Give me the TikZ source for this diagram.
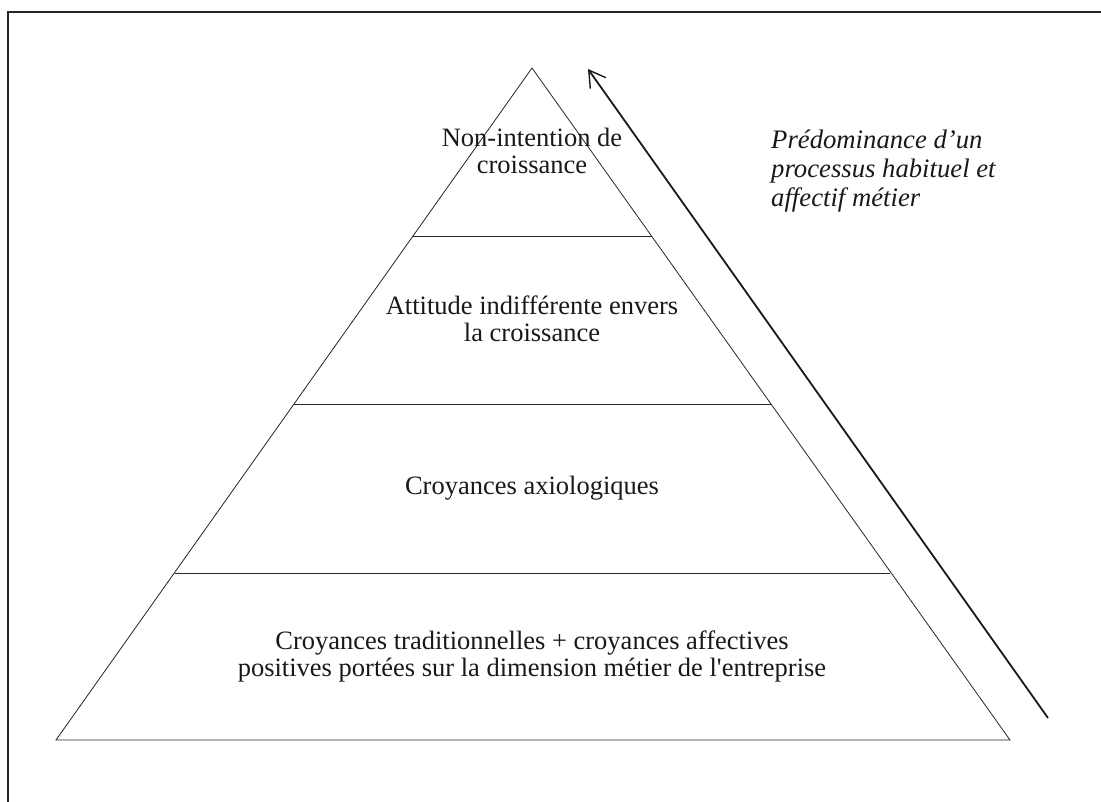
\documentclass[tikz,border=0pt]{standalone}
\usepackage{fontspec}
\newfontfamily\lab{Liberation Serif}
\usetikzlibrary{arrows.meta}
\begin{document}
\begin{tikzpicture}[x=1pt,y=1pt,
  layer/.style={draw=black!85, line width=0.8pt},
  lbl/.style={align=center, font=\lab\fontsize{26.5}{27.5}\selectfont, inner sep=0pt, anchor=base, text=black!90},
  side/.style={align=left, font=\lab\fontsize{26.7}{29}\selectfont\itshape, inner sep=0pt, anchor=base west, text=black!90},
  frame/.style={line width=1.6pt, draw=black!85}]
\useasboundingbox (0,0) rectangle (1101,801);
% frame (left and top edges only visible)
\draw[frame] (8,-5) -- (8,789) -- (1110,789);
% pyramid corners
\coordinate (apex) at (532,733);
\coordinate (bl) at (56,61);
\coordinate (br) at (1010,61);
\draw[layer] (bl) -- (apex) -- (br) -- cycle;
% layer lines
\coordinate (l1a) at (413,565); \coordinate (l1b) at (652,565);
\coordinate (l2a) at (294,397); \coordinate (l2b) at (771,397);
\coordinate (l3a) at (175,228); \coordinate (l3b) at (890,228);
\draw[layer] (l1a) -- (l1b);
\draw[layer] (l2a) -- (l2b);
\draw[layer] (l3a) -- (l3b);
% labels (base anchor = baseline of last line)
\node[lbl] (t1) at (532,627) {Non-intention de\\croissance};
\node[lbl] (t2) at (532,459) {Attitude indifférente envers\\la croissance};
\node[lbl] (t3) at (532,306) {Croyances axiologiques};
\node[lbl] (t4) at (532,124) {Croyances traditionnelles + croyances affectives\\positives portées sur la dimension métier de l'entreprise};
% arrow
\coordinate (atail) at (1048,83);
\coordinate (ahead) at (588,732);
\draw[line width=1.8pt, draw=black!90, -{Straight Barb[length=16pt,width=19pt,line width=1.4pt]}] (atail) -- (ahead);
\node[side] (s) at (771,594) {Prédominance d’un\\processus habituel et\\affectif métier};
\end{tikzpicture}
\end{document}
